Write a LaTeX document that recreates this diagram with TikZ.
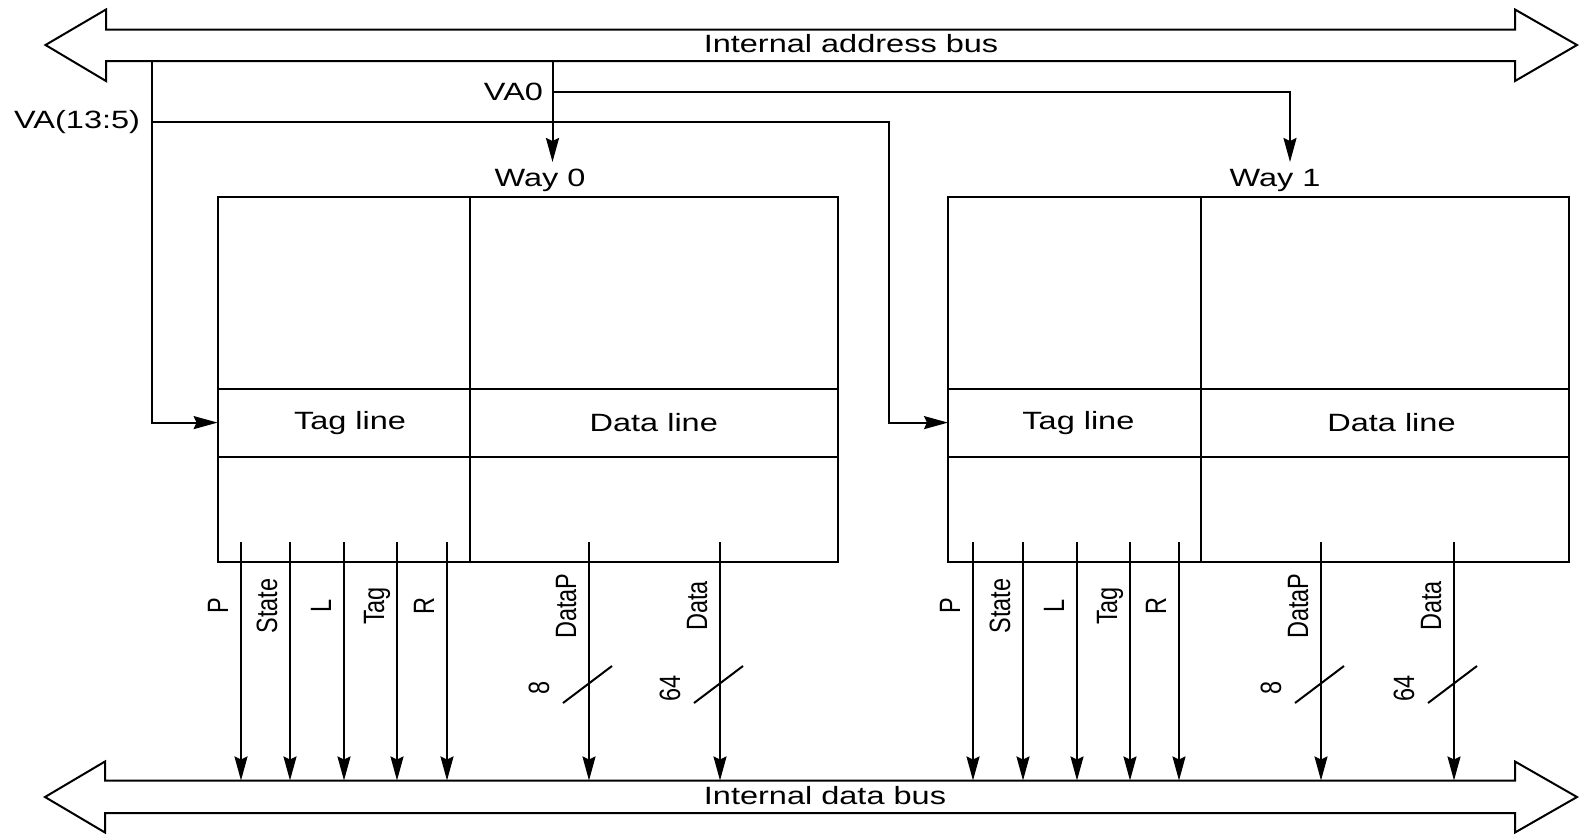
\documentclass[tikz,border=0pt]{standalone}
\usepackage{fontspec}
\setmainfont{Liberation Sans}
\usepackage{graphicx}
\usetikzlibrary{arrows.meta,calc}
\newcommand{\hx}[1]{\scalebox{1.3}[1]{#1}}
\newcommand{\vx}[1]{\scalebox{1}[1.25]{#1}}
\begin{document}
\begin{tikzpicture}[x=1pt,y=-1pt,line width=2pt,
  arr/.style={-{Stealth[length=24pt,width=13pt,inset=3pt]}},
  lbl/.style={inner sep=0pt,outer sep=0pt,font=\fontsize{25}{30}\selectfont},
  vlbl/.style={inner sep=0pt,outer sep=0pt,rotate=90,anchor=base,font=\fontsize{23.5}{28}\selectfont},
  boxn/.style={draw,inner sep=0pt,outer sep=0pt,anchor=north west,minimum width=#1,minimum height=365pt},
  cell/.style={draw,inner sep=0pt,outer sep=0pt,anchor=north west,minimum width=#1,minimum height=68pt,
    font=\fontsize{25}{30}\selectfont},
  bus/.style={draw,fill=white,line join=miter}]
\useasboundingbox (0,0) rectangle (1587,836);

% buses
\draw[bus] (45.5,45) -- (106,9.5) -- (106,29.5) -- (1515,29.5) -- (1515,9.5) -- (1577,45)
  -- (1515,81) -- (1515,61) -- (106,61) -- (106,81) -- cycle;
\node[lbl] (abus) at (851,44) {\hx{Internal address bus}};
\draw[bus] (45,797) -- (105,761.5) -- (105,780.5) -- (1515,780.5) -- (1515,761.5) -- (1577,797)
  -- (1515,832.5) -- (1515,813) -- (105,813) -- (105,832.5) -- cycle;
\node[lbl] (dbus) at (825,796) {\hx{Internal data bus}};
\coordinate (dbt) at (0,780.5);

% way 0
\node[boxn=620.4pt] (box0) at (217.6,197) {};
\node[cell=252pt] (tag0) at (217.6,388.6) {\hx{\hspace*{10pt}Tag line}};
\node[cell=368.4pt] (data0) at (469.6,388.6) {\hx{Data line}};
\draw (tag0.east |- box0.north) -- (tag0.east |- box0.south);
\node[lbl] (way0) at (540,180) {\hx{Way 0}};

% way 1
\node[boxn=621pt] (box1) at (948,197) {};
\node[cell=253pt] (tag1) at (948,388.6) {\hx{\hspace*{6pt}Tag line}};
\node[cell=368pt] (data1) at (1201,388.6) {\hx{\hspace*{10pt}Data line}};
\draw (tag1.east |- box1.north) -- (tag1.east |- box1.south);
\node[lbl] (way1) at (1275,180) {\hx{Way 1}};

% address routing
\coordinate (lb) at (152,61);
\draw[arr] (lb) |- (tag0.west);
\coordinate (j1) at (152,122);
\coordinate (k1) at (889,122);
\draw[arr] (j1) -- (k1) |- (tag1.west);
\node[lbl,anchor=east] (va) at (140,122) {\hx{VA(13:5)}};

\coordinate (v0) at (552.5,61);
\coordinate (v0e) at (552.5,162);
\draw[arr] (v0) -- (v0e);
\coordinate (j0) at (552.5,92);
\coordinate (k0) at (1290,92);
\coordinate (v1e) at (1290,162);
\draw[arr] (j0) -- (k0) -- (v1e);
\node[lbl,anchor=east] (vazero) at (543,92) {\hx{VA0}};

% signals to data bus
\foreach \x/\n/\t in {241/p0/P,290/s0/State,344/l0/L,397/t0/Tag,447/r0/R,589/dp0/DataP,720/d0/Data,
                      973/p1/P,1023/s1/State,1077/l1/L,1130/t1/Tag,1179/r1/R,1321/dp1/DataP,1454/d1/Data}{
  \coordinate (\n) at (\x,542);
  \draw[arr] (\n) -- (\n |- dbt);
  \node[vlbl] (\n lab) at (\x-13,606) {\vx{\t}};
}

% bus widths
\foreach \n/\w in {dp0/8,d0/64,dp1/8,d1/64}{
  \coordinate (\n w) at ($(\n)+(0,142)$);
  \draw ($(\n w)+(-26,19)$) -- ($(\n w)+(23,-18)$);
  \node[vlbl] (\n wl) at ($(\n w)+(-40,4)$) {\vx{\w}};
}
\end{tikzpicture}
\end{document}
